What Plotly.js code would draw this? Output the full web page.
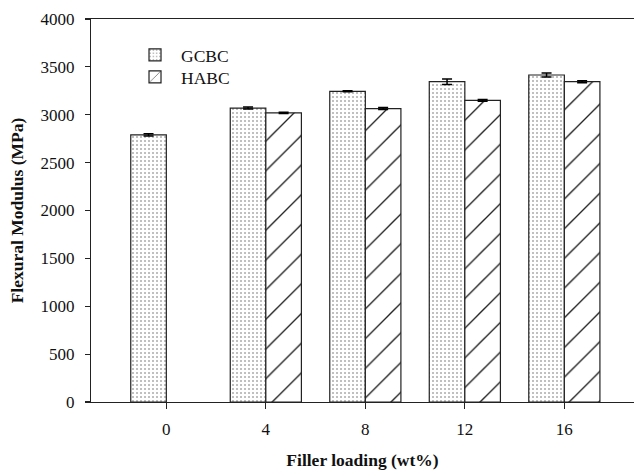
<!DOCTYPE html>
<html>
<head>
<meta charset="utf-8">
<script src="https://cdn.plot.ly/plotly-3.0.1.min.js"></script>
<style>
  html, body { margin: 0; padding: 0; background: #ffffff; }
  #chart { width: 634px; height: 470px; }
</style>
</head>
<body>
<div id="chart"></div>
<script>
// Data
var fillerLoading = ['0', '4', '8', '12', '16'];
var gcbcModulus = [2790, 3070, 3245, 3345, 3415];
var gcbcError = [12, 10, 6, 28, 22];
var habcModulus = [null, 3020, 3065, 3150, 3345];
var habcError = [null, 6, 10, 8, 10];
var yTickValues = [0, 500, 1000, 1500, 2000, 2500, 3000, 3500, 4000];

var serif = 'Liberation Serif, Times New Roman, serif';

var traces = [
  {
    type: 'bar',
    name: 'GCBC',
    legend: 'legend',
    x: fillerLoading,
    y: gcbcModulus,
    error_y: { type: 'data', array: gcbcError, visible: true, color: '#000000', thickness: 1.5, width: 5 },
    marker: {
      color: '#ffffff',
      line: { color: '#222222', width: 1.2 },
      pattern: { shape: '.', size: 4, solidity: 0.13, fgcolor: '#707070', bgcolor: '#ffffff', fillmode: 'replace' }
    }
  },
  {
    type: 'bar',
    name: 'HABC',
    legend: 'legend2',
    x: fillerLoading,
    y: habcModulus,
    error_y: { type: 'data', array: habcError, visible: true, color: '#000000', thickness: 1.5, width: 5 },
    marker: {
      color: '#ffffff',
      line: { color: '#222222', width: 1.2 },
      pattern: { shape: '/', size: 21, solidity: 0.065, fgcolor: '#222222', bgcolor: '#ffffff', fillmode: 'replace' }
    }
  }
];

var legendFont = { family: serif, size: 17.5, color: '#111111' };

var layout = {
  width: 634,
  height: 470,
  margin: { l: 91, r: 0, t: 19, b: 68, pad: 0 },
  paper_bgcolor: '#ffffff',
  plot_bgcolor: '#ffffff',
  font: { family: serif, size: 17, color: '#111111' },
  barmode: 'group',
  bargap: 0.285,
  bargroupgap: 0,
  showlegend: true,
  legend: {
    x: 0.070, y: 0.953, xanchor: 'left', yanchor: 'top',
    itemwidth: 42,
    bgcolor: 'rgba(0,0,0,0)',
    font: legendFont
  },
  legend2: {
    x: 0.070, y: 0.8956, xanchor: 'left', yanchor: 'top',
    itemwidth: 42,
    bgcolor: 'rgba(0,0,0,0)',
    font: legendFont
  },
  xaxis: {
    type: 'category',
    range: [-0.757, 4.70],
    showline: true, linecolor: '#222222', linewidth: 1.2,
    mirror: true,
    ticks: 'outside', ticklen: 6, tickwidth: 1.2, tickcolor: '#222222',
    ticklabelstandoff: 5,
    showgrid: false, zeroline: false,
    tickfont: { family: serif, size: 17, color: '#111111' },
    title: { text: '<b>Filler loading (wt%)</b>', font: { family: serif, size: 17.5, color: '#111111' }, standoff: 17 }
  },
  yaxis: {
    range: [0, 4000],
    tickvals: yTickValues,
    showline: true, linecolor: '#222222', linewidth: 1.2,
    mirror: false,
    ticks: 'outside', ticklen: 5, tickwidth: 1.2, tickcolor: '#222222',
    ticklabelstandoff: 7,
    showgrid: false, zeroline: false,
    tickfont: { family: serif, size: 17, color: '#111111' },
    title: { text: '<b>Flexural Modulus (MPa)</b>', font: { family: serif, size: 17.5, color: '#111111' }, standoff: 12 }
  }
};

Plotly.newPlot('chart', traces, layout, { displayModeBar: false, staticPlot: true });
</script>
</body>
</html>
